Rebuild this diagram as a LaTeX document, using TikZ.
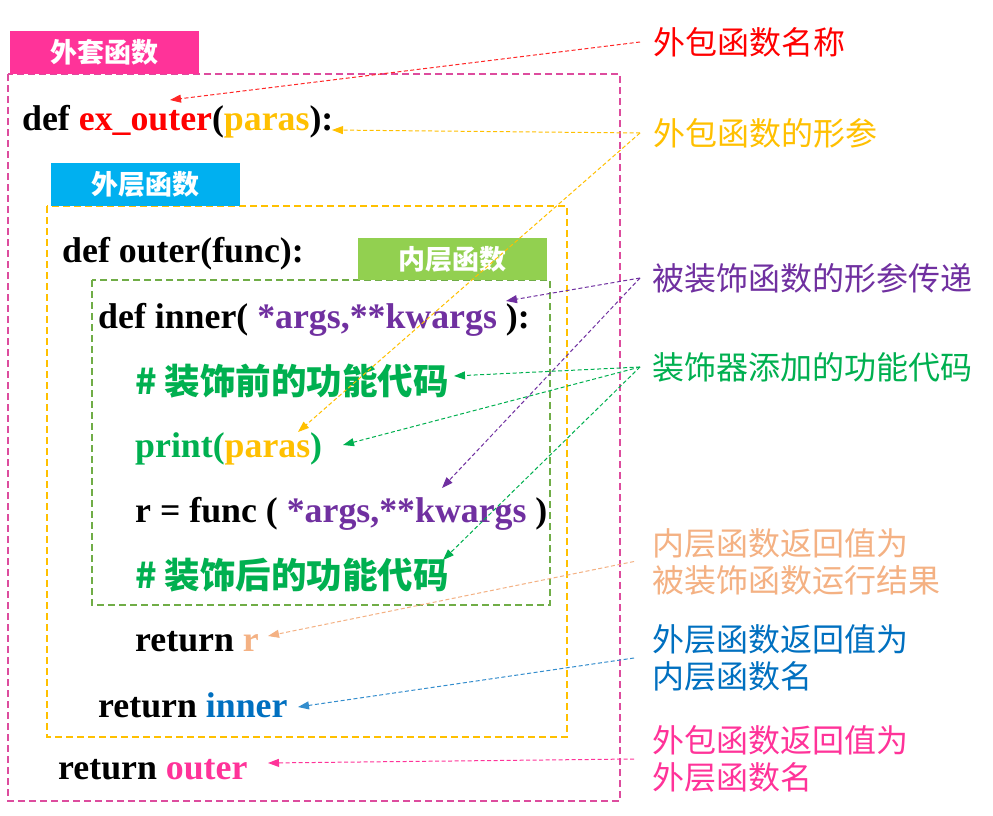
\documentclass[tikz,border=0pt]{standalone}
\usepackage{fontspec}
\setmainfont{Liberation Serif}
\newfontfamily\cjk{Noto Sans CJK SC}
\usetikzlibrary{arrows.meta}
\definecolor{pk}{HTML}{FF3399}
\definecolor{pkline}{HTML}{DD4C9E}
\definecolor{exred}{HTML}{FF0000}
\definecolor{yel}{HTML}{FFC000}
\definecolor{pur}{HTML}{7030A0}
\definecolor{cgreen}{HTML}{00B050}
\definecolor{lgreen}{HTML}{92D050}
\definecolor{gline}{HTML}{70AD47}
\definecolor{skyb}{HTML}{00B0F0}
\definecolor{dblue}{HTML}{0070C0}
\definecolor{peach}{HTML}{F4B183}
\begin{document}
\begin{tikzpicture}[x=1pt,y=-1pt,
  code/.style={anchor=base west, inner sep=0pt, font=\fontsize{35.8}{40}\selectfont\bfseries},
  cmt/.style={anchor=base west, inner sep=0pt, text=cgreen, font=\cjk\fontsize{35.5}{40}\selectfont\bfseries},
  lbl/.style={anchor=west, inner sep=0pt, align=left, font=\cjk\fontsize{32}{37}\selectfont},
  tag/.style={minimum width=189pt, minimum height=43pt, inner sep=0pt, text=white, font=\cjk\fontsize{27}{30}\selectfont\bfseries},
  frame/.style={dash pattern=on 7pt off 4pt, line width=2pt},
  note/.style={dash pattern=on 4pt off 2.5pt, line width=1pt, -{Triangle[length=11pt,width=8pt]}}]
\useasboundingbox (0,0) rectangle (993,816);
\fill[white] (0,0) rectangle (993,816);

% frames
\draw[frame, pkline] (8,74) rectangle (620,801);
\draw[frame, yel] (47,206) rectangle (567,737);
\draw[frame, gline] (92,280) rectangle (550,605);

% tags
\node[tag, fill=pk] (tagA) at (104,52.5) {外套函数};
\node[tag, fill=skyb] (tagB) at (145,184.5) {外层函数};
\node[tag, fill=lgreen, minimum height=42pt] (tagC) at (452.5,259) {内层函数};

% code lines
\node[code] (c1) at (22,130) {def \textcolor{exred}{ex\_outer}(\textcolor{yel}{paras}):};
\node[code] (c2) at (62,262) {def outer(func):};
\node[code] (c3) at (98,328) {def inner( \textcolor{pur}{*args,**kwargs} ):};
\node[cmt] (c4) at (135,394) {\# 装饰前的功能代码};
\node[code, text=cgreen] (c5) at (135,457) {print(\textcolor{yel}{paras})};
\node[code] (c6) at (135,522) {r = func ( \textcolor{pur}{*args,**kwargs} )};
\node[cmt] (c7) at (135,588) {\# 装饰后的功能代码};
\node[code] (c8) at (135,651) {return \textcolor{peach}{r}};
\node[code] (c9) at (98,717) {return \textcolor{dblue}{inner}};
\node[code] (c10) at (58,779) {return \textcolor{pk}{outer}};

% labels
\node[lbl, text=exred] (lName) at (653,42) {外包函数名称};
\node[lbl, text=yel] (lPara) at (653,133) {外包函数的形参};
\node[lbl, text=pur] (lPass) at (652,278) {被装饰函数的形参传递};
\node[lbl, text=cgreen] (lAdd) at (652,367) {装饰器添加的功能代码};
\node[lbl, text=peach] (lRetR) at (652,561.5) {内层函数返回值为\\被装饰函数运行结果};
\node[lbl, text=dblue] (lRetI) at (652,658) {外层函数返回值为\\内层函数名};
\node[lbl, text=pk] (lRetO) at (652,759) {外包函数返回值为\\外层函数名};

% arrow tips
\coordinate (tRed) at (170,100);
\coordinate (tY1) at (332,130);
\coordinate (tY2) at (298,432);
\coordinate (tP1) at (506,301);
\coordinate (tP2) at (442,488);
\coordinate (tG1) at (454,376);
\coordinate (tG2) at (343,445);
\coordinate (tG3) at (443,560);
\coordinate (tR) at (268,636);
\coordinate (tB) at (298,707);
\coordinate (tO) at (268,763);

% arrows
\draw[note, exred!85!white] ([xshift=-13pt]lName.west) -- (tRed);
\draw[note, yel] ([xshift=-13pt]lPara.west) -- (tY1);
\draw[note, yel] ([xshift=-13pt]lPara.west) -- (tY2);
\draw[note, pur] ([xshift=-12pt]lPass.west) -- (tP1);
\draw[note, pur] ([xshift=-12pt]lPass.west) -- (tP2);
\draw[note, cgreen] ([xshift=-12pt]lAdd.west) -- (tG1);
\draw[note, cgreen] ([xshift=-12pt]lAdd.west) -- (tG2);
\draw[note, cgreen] ([xshift=-12pt]lAdd.west) -- (tG3);
\draw[note, peach] ([xshift=-18pt]lRetR.west) -- (tR);
\draw[note, dblue!80!white] ([xshift=-18pt]lRetI.west) -- (tB);
\draw[note, pk] ([xshift=-18pt]lRetO.west) -- (tO);
\end{tikzpicture}
\end{document}
